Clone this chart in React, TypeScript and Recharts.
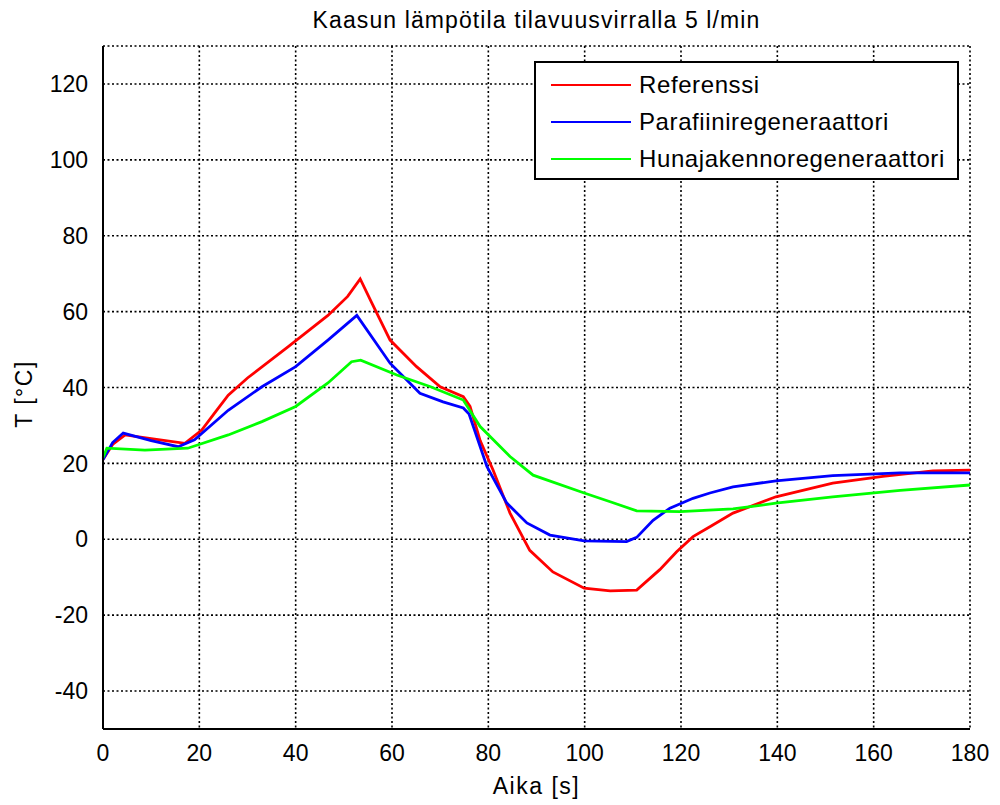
import { LineChart, Line, XAxis, YAxis, CartesianGrid } from 'recharts';

// time [s] and temperature [°C]
const refTime = [0, 2, 4.6, 10, 17, 20.5, 23, 26, 30, 38.4, 46.7, 50.8, 53.4, 55.8, 59.6, 65.1, 70, 74.8, 76.2, 78.3, 81, 84.5, 88.6, 93.4, 99.9, 105.3, 110.8, 115.6, 119.1, 122.5, 126, 130.8, 139.7, 151.5, 161.9, 172.3, 180];
const refTemp = [21, 25, 27.5, 26.5, 25.3, 28.8, 33, 38, 42.5, 50.7, 59, 64, 68.6, 62.3, 52.5, 45.5, 40.2, 37.6, 35, 26, 18.2, 6.9, -2.9, -8.6, -12.9, -13.6, -13.4, -8, -3.3, 0.7, 3.3, 6.9, 11.2, 14.8, 16.6, 18, 18.2];

const parTime = [0, 2, 4.2, 10, 15.6, 19, 26, 33, 40, 46.7, 52.7, 59.6, 65.8, 70.6, 74.8, 76, 79.7, 83.8, 88, 92.8, 99.9, 108.7, 110.8, 114.2, 117.7, 122.5, 126, 130.8, 139.7, 151.5, 165.5, 180];
const parTemp = [21, 25.5, 28, 26, 24.4, 26.2, 34, 40.2, 45.5, 52.5, 59, 46.4, 38.5, 36.2, 34.6, 33, 19.2, 9.6, 4.3, 1.1, -0.4, -0.6, 0.5, 5, 8.2, 10.8, 12.2, 13.8, 15.4, 16.8, 17.5, 17.5];

const hunTime = [0, 0.8, 8.7, 17.6, 26, 33, 40, 46.7, 51.6, 53.5, 61, 68, 74.8, 78.3, 84.5, 89.3, 99.9, 105.3, 110.8, 119.8, 130.8, 139.7, 151.5, 165.5, 180];
const hunTemp = [21.5, 24, 23.5, 24, 27.5, 31, 35, 41.2, 46.8, 47.2, 43.3, 40.2, 36.7, 29.7, 21.8, 16.9, 12.2, 9.9, 7.5, 7.3, 8, 9.5, 11.2, 12.9, 14.3];

const xTicks = [0, 20, 40, 60, 80, 100, 120, 140, 160, 180];
const yTicks = [-40, -20, 0, 20, 40, 60, 80, 100, 120];

const seriesNames = ['Referenssi', 'Parafiiniregeneraattori', 'Hunajakennoregeneraattori'];
const seriesColors = ['#ff0000', '#0000ff', '#00ff00'];

const toPoints = (t: number[], v: number[]) => t.map((x, i) => ({ t: x, v: v[i] }));

const FONT = '"Liberation Sans", Arial, sans-serif';

const LegendBox = () => (
  <div style={{
    position: 'absolute', left: 534, top: 61, width: 425, height: 119,
    background: '#fff', border: '2px solid #000', boxSizing: 'border-box',
    padding: '3px 0 0 15px', fontFamily: FONT,
  }}>
    {seriesNames.map((name, i) => (
      <div key={name} style={{ display: 'flex', alignItems: 'center', height: 37 }}>
        <div style={{ width: 80, height: 2, background: seriesColors[i], marginRight: 8 }} />
        <span style={{ fontSize: 24, color: '#000', letterSpacing: 0.6 }}>{name}</span>
      </div>
    ))}
  </div>
);

export default function App() {
  const series = [toPoints(refTime, refTemp), toPoints(parTime, parTemp), toPoints(hunTime, hunTemp)];
  return (
    <div style={{ position: 'absolute', left: 0, top: 0, width: 1000, height: 805, background: '#fff', fontFamily: FONT }}>
      <div style={{
        position: 'absolute', top: 7, left: 103, width: 867, textAlign: 'center',
        fontSize: 23, color: '#000', letterSpacing: 1.1,
      }}>
        Kaasun lämpötila tilavuusvirralla 5 l/min
      </div>
      <LineChart width={1000} height={805} margin={{ top: 46, right: 30, bottom: 46, left: 43 }}>
        <CartesianGrid stroke="#000" strokeDasharray="2 2.5" strokeWidth={1.6} />
        <XAxis
          dataKey="t" type="number" domain={[0, 180]} ticks={xTicks} allowDuplicatedCategory={false}
          height={30} stroke="#000" strokeWidth={2} tickLine={false}
          tick={{ fontSize: 23, fill: '#000', fontFamily: FONT }} tickMargin={10}
        />
        <XAxis xAxisId="top" orientation="top" type="number" domain={[0, 180]} ticks={xTicks}
          height={0} stroke="#000" strokeWidth={2} tick={false} tickLine={false} />
        <YAxis
          dataKey="v" type="number" domain={[-50, 130]} ticks={yTicks} width={60}
          stroke="#000" strokeWidth={2} tickLine={false}
          tick={{ fontSize: 23, fill: '#000', fontFamily: FONT }} tickMargin={9}
        />
        <YAxis yAxisId="right" orientation="right" type="number" domain={[-50, 130]} ticks={yTicks}
          width={0} stroke="#000" strokeWidth={2} tick={false} tickLine={false} />
        {series.map((data, i) => (
          <Line
            key={seriesNames[i]} data={data} dataKey="v" name={seriesNames[i]} type="linear"
            stroke={seriesColors[i]} strokeWidth={2.8} dot={false} isAnimationActive={false}
          />
        ))}
      </LineChart>
      <LegendBox />
      <div style={{
        position: 'absolute', top: 773, left: 103, width: 867, textAlign: 'center',
        fontSize: 23, color: '#000', letterSpacing: 1.5,
      }}>
        Aika [s]
      </div>
      <div style={{
        position: 'absolute', left: 24, top: 394, transform: 'translate(-50%, -50%) rotate(-90deg)',
        fontSize: 23, color: '#000', whiteSpace: 'nowrap', letterSpacing: 1.5,
      }}>
        T [°C]
      </div>
    </div>
  );
}
